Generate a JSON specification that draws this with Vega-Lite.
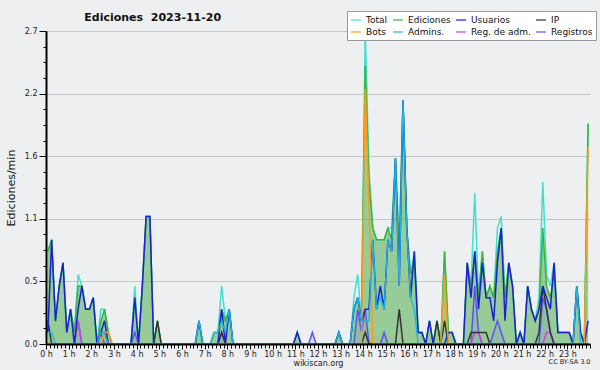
{
"$schema": "https://vega.github.io/schema/vega-lite/v6.json",
"width": 544, "height": 313,
"autosize": {"type": "none"},
"padding": {"left": 46, "top": 31, "right": 10, "bottom": 26},
"background": "#eeeff1",
"title": {"text": "Ediciones\u00a0 2023-11-20", "anchor": "start", "dx": 79, "dy": 22, "offset": 10, "fontSize": 11, "fontWeight": "bold", "font": "DejaVu Sans", "color": "#111111"},
"config": {
  "view": {"stroke": null},
  "font": "DejaVu Sans",
  "legend": {"orient": "none", "legendX": 301, "legendY": -20, "columns": 4, "direction": "horizontal", "gridAlign": "each", "symbolType": "stroke", "symbolSize": 100, "symbolStrokeWidth": 1.2, "labelFontSize": 9, "labelFont": "DejaVu Sans", "labelColor": "#111111", "labelOffset": 4, "fillColor": "#ffffff", "strokeColor": "#999999", "padding": 3, "rowPadding": 1, "columnPadding": 2}
},
"data": {"values": [
{"m":5,"T":0.8,"E":0.8,"U":0.1,"P":0.2,"B":0,"A":0.1,"R":0,"G":0},
{"m":15,"T":0.9,"E":0.9,"U":0.9,"P":0,"B":0,"A":0.1,"R":0,"G":0},
{"m":25,"T":0.2,"E":0.2,"U":0.2,"P":0,"B":0,"A":0,"R":0,"G":0},
{"m":35,"T":0.5,"E":0.5,"U":0.5,"P":0,"B":0,"A":0,"R":0,"G":0},
{"m":45,"T":0.7,"E":0.7,"U":0.7,"P":0,"B":0,"A":0,"R":0,"G":0},
{"m":55,"T":0.1,"E":0.1,"U":0.1,"P":0,"B":0,"A":0,"R":0,"G":0},
{"m":65,"T":0.3,"E":0.3,"U":0.3,"P":0,"B":0,"A":0,"R":0,"G":0},
{"m":75,"T":0.1,"E":0.1,"U":0,"P":0,"B":0,"A":0,"R":0,"G":0},
{"m":85,"T":0.6,"E":0.5,"U":0.3,"P":0,"B":0,"A":0,"R":0.2,"G":0.2},
{"m":95,"T":0.5,"E":0.5,"U":0.5,"P":0,"B":0,"A":0,"R":0,"G":0},
{"m":105,"T":0.3,"E":0.3,"U":0.3,"P":0,"B":0,"A":0,"R":0,"G":0},
{"m":115,"T":0.3,"E":0.3,"U":0.3,"P":0,"B":0,"A":0,"R":0,"G":0},
{"m":125,"T":0.4,"E":0.4,"U":0.4,"P":0,"B":0,"A":0,"R":0,"G":0},
{"m":135,"T":0,"E":0,"U":0,"P":0,"B":0,"A":0,"R":0,"G":0},
{"m":145,"T":0.3,"E":0.2,"U":0.1,"P":0.1,"B":0,"A":0.1,"R":0,"G":0.1},
{"m":155,"T":0.3,"E":0.3,"U":0.2,"P":0.1,"B":0.1,"A":0.1,"R":0,"G":0},
{"m":165,"T":0.1,"E":0.1,"U":0,"P":0,"B":0.1,"A":0,"R":0,"G":0},
{"m":175,"T":0,"E":0,"U":0,"P":0,"B":0,"A":0,"R":0,"G":0},
{"m":185,"T":0,"E":0,"U":0,"P":0,"B":0,"A":0,"R":0,"G":0},
{"m":195,"T":0,"E":0,"U":0,"P":0,"B":0,"A":0,"R":0,"G":0},
{"m":205,"T":0,"E":0,"U":0,"P":0,"B":0,"A":0,"R":0,"G":0},
{"m":215,"T":0,"E":0,"U":0,"P":0,"B":0,"A":0,"R":0,"G":0},
{"m":225,"T":0,"E":0,"U":0,"P":0,"B":0,"A":0,"R":0,"G":0},
{"m":235,"T":0.5,"E":0.4,"U":0.4,"P":0,"B":0,"A":0,"R":0,"G":0.1},
{"m":245,"T":0,"E":0,"U":0,"P":0,"B":0,"A":0,"R":0,"G":0},
{"m":255,"T":0.5,"E":0.5,"U":0.5,"P":0,"B":0,"A":0,"R":0,"G":0},
{"m":265,"T":1.1,"E":1.1,"U":1.1,"P":0,"B":0,"A":0,"R":0,"G":0},
{"m":275,"T":1.1,"E":1.1,"U":1.1,"P":0,"B":0,"A":0,"R":0,"G":0},
{"m":285,"T":0,"E":0,"U":0,"P":0,"B":0,"A":0,"R":0,"G":0},
{"m":295,"T":0.2,"E":0.2,"U":0,"P":0.2,"B":0,"A":0,"R":0,"G":0},
{"m":305,"T":0,"E":0,"U":0,"P":0,"B":0,"A":0,"R":0,"G":0},
{"m":315,"T":0,"E":0,"U":0,"P":0,"B":0,"A":0,"R":0,"G":0},
{"m":325,"T":0,"E":0,"U":0,"P":0,"B":0,"A":0,"R":0,"G":0},
{"m":335,"T":0,"E":0,"U":0,"P":0,"B":0,"A":0,"R":0,"G":0},
{"m":345,"T":0,"E":0,"U":0,"P":0,"B":0,"A":0,"R":0,"G":0},
{"m":355,"T":0,"E":0,"U":0,"P":0,"B":0,"A":0,"R":0,"G":0},
{"m":365,"T":0,"E":0,"U":0,"P":0,"B":0,"A":0,"R":0,"G":0},
{"m":375,"T":0,"E":0,"U":0,"P":0,"B":0,"A":0,"R":0,"G":0},
{"m":385,"T":0,"E":0,"U":0,"P":0,"B":0,"A":0,"R":0,"G":0},
{"m":395,"T":0,"E":0,"U":0,"P":0,"B":0,"A":0,"R":0,"G":0},
{"m":405,"T":0.2,"E":0.2,"U":0.2,"P":0,"B":0,"A":0.2,"R":0,"G":0},
{"m":415,"T":0,"E":0,"U":0,"P":0,"B":0,"A":0,"R":0,"G":0},
{"m":425,"T":0,"E":0,"U":0,"P":0,"B":0,"A":0,"R":0,"G":0},
{"m":435,"T":0,"E":0,"U":0,"P":0,"B":0,"A":0,"R":0,"G":0},
{"m":445,"T":0.1,"E":0.1,"U":0,"P":0,"B":0,"A":0.1,"R":0,"G":0},
{"m":455,"T":0.1,"E":0.1,"U":0,"P":0,"B":0,"A":0.1,"R":0,"G":0},
{"m":465,"T":0.5,"E":0.3,"U":0.3,"P":0.1,"B":0,"A":0.2,"R":0,"G":0.1},
{"m":475,"T":0.2,"E":0.2,"U":0,"P":0,"B":0,"A":0.1,"R":0,"G":0},
{"m":485,"T":0.3,"E":0.3,"U":0.3,"P":0,"B":0,"A":0.3,"R":0,"G":0},
{"m":495,"T":0,"E":0,"U":0,"P":0,"B":0,"A":0,"R":0,"G":0},
{"m":505,"T":0,"E":0,"U":0,"P":0,"B":0,"A":0,"R":0,"G":0},
{"m":515,"T":0,"E":0,"U":0,"P":0,"B":0,"A":0,"R":0,"G":0},
{"m":525,"T":0,"E":0,"U":0,"P":0,"B":0,"A":0,"R":0,"G":0},
{"m":535,"T":0,"E":0,"U":0,"P":0,"B":0,"A":0,"R":0,"G":0},
{"m":545,"T":0,"E":0,"U":0,"P":0,"B":0,"A":0,"R":0,"G":0},
{"m":555,"T":0,"E":0,"U":0,"P":0,"B":0,"A":0,"R":0,"G":0},
{"m":565,"T":0,"E":0,"U":0,"P":0,"B":0,"A":0,"R":0,"G":0},
{"m":575,"T":0,"E":0,"U":0,"P":0,"B":0,"A":0,"R":0,"G":0},
{"m":585,"T":0,"E":0,"U":0,"P":0,"B":0,"A":0,"R":0,"G":0},
{"m":595,"T":0,"E":0,"U":0,"P":0,"B":0,"A":0,"R":0,"G":0},
{"m":605,"T":0,"E":0,"U":0,"P":0,"B":0,"A":0,"R":0,"G":0},
{"m":615,"T":0,"E":0,"U":0,"P":0,"B":0,"A":0,"R":0,"G":0},
{"m":625,"T":0,"E":0,"U":0,"P":0,"B":0,"A":0,"R":0,"G":0},
{"m":635,"T":0,"E":0,"U":0,"P":0,"B":0,"A":0,"R":0,"G":0},
{"m":645,"T":0,"E":0,"U":0,"P":0,"B":0,"A":0,"R":0,"G":0},
{"m":655,"T":0,"E":0,"U":0,"P":0,"B":0,"A":0,"R":0,"G":0},
{"m":665,"T":0.1,"E":0.1,"U":0.1,"P":0,"B":0,"A":0,"R":0,"G":0},
{"m":675,"T":0,"E":0,"U":0,"P":0,"B":0,"A":0,"R":0,"G":0},
{"m":685,"T":0,"E":0,"U":0,"P":0,"B":0,"A":0,"R":0,"G":0},
{"m":695,"T":0,"E":0,"U":0,"P":0,"B":0,"A":0,"R":0,"G":0},
{"m":705,"T":0,"E":0,"U":0,"P":0,"B":0,"A":0,"R":0,"G":0.1},
{"m":715,"T":0,"E":0,"U":0,"P":0,"B":0,"A":0,"R":0,"G":0},
{"m":725,"T":0,"E":0,"U":0,"P":0,"B":0,"A":0,"R":0,"G":0},
{"m":735,"T":0,"E":0,"U":0,"P":0,"B":0,"A":0,"R":0,"G":0},
{"m":745,"T":0,"E":0,"U":0,"P":0,"B":0,"A":0,"R":0,"G":0},
{"m":755,"T":0,"E":0,"U":0,"P":0,"B":0,"A":0,"R":0,"G":0},
{"m":765,"T":0,"E":0,"U":0,"P":0,"B":0,"A":0,"R":0,"G":0},
{"m":775,"T":0.1,"E":0.1,"U":0.1,"P":0,"B":0,"A":0.1,"R":0,"G":0},
{"m":785,"T":0,"E":0,"U":0,"P":0,"B":0,"A":0,"R":0,"G":0},
{"m":795,"T":0,"E":0,"U":0,"P":0,"B":0,"A":0,"R":0,"G":0},
{"m":805,"T":0,"E":0,"U":0,"P":0,"B":0,"A":0,"R":0,"G":0},
{"m":815,"T":0.4,"E":0.3,"U":0.3,"P":0,"B":0,"A":0.3,"R":0,"G":0},
{"m":825,"T":0.6,"E":0.4,"U":0.4,"P":0,"B":0,"A":0.4,"R":0,"G":0.3},
{"m":835,"T":0.2,"E":0.2,"U":0.2,"P":0,"B":0,"A":0.2,"R":0,"G":0.1},
{"m":845,"T":2.7,"E":2.4,"U":0.3,"P":0.1,"B":2.2,"A":0.2,"R":0,"G":0.3},
{"m":855,"T":1.5,"E":1.4,"U":0.3,"P":0,"B":1.2,"A":0.2,"R":0,"G":0},
{"m":865,"T":1.0,"E":1.0,"U":0.9,"P":0,"B":0,"A":0.9,"R":0,"G":0},
{"m":875,"T":0.9,"E":0.9,"U":0.3,"P":0,"B":0,"A":0.3,"R":0,"G":0},
{"m":885,"T":0.9,"E":0.9,"U":0.5,"P":0,"B":0,"A":0.4,"R":0,"G":0},
{"m":895,"T":0.9,"E":0.9,"U":0.3,"P":0,"B":0,"A":0.3,"R":0,"G":0.1},
{"m":905,"T":1.0,"E":1.0,"U":0.9,"P":0,"B":0,"A":0.9,"R":0,"G":0},
{"m":915,"T":1.0,"E":0.9,"U":0.8,"P":0,"B":0,"A":0.8,"R":0,"G":0},
{"m":925,"T":1.6,"E":1.6,"U":1.6,"P":0,"B":0,"A":1.6,"R":0,"G":0},
{"m":935,"T":0.8,"E":0.8,"U":0.5,"P":0.3,"B":0,"A":0.5,"R":0,"G":0},
{"m":945,"T":2.1,"E":2.1,"U":2.1,"P":0,"B":0,"A":2.1,"R":0,"G":0},
{"m":955,"T":1.0,"E":1.0,"U":1.0,"P":0,"B":0,"A":1.0,"R":0,"G":0},
{"m":965,"T":0.6,"E":0.6,"U":0.4,"P":0,"B":0,"A":0.4,"R":0,"G":0},
{"m":975,"T":0.8,"E":0.7,"U":0.8,"P":0,"B":0,"A":0.3,"R":0,"G":0},
{"m":985,"T":0.1,"E":0.1,"U":0.1,"P":0,"B":0,"A":0,"R":0,"G":0},
{"m":995,"T":0.1,"E":0.1,"U":0.1,"P":0,"B":0,"A":0,"R":0,"G":0},
{"m":1005,"T":0,"E":0,"U":0,"P":0,"B":0,"A":0,"R":0,"G":0},
{"m":1015,"T":0.2,"E":0.2,"U":0.2,"P":0,"B":0,"A":0,"R":0,"G":0},
{"m":1025,"T":0,"E":0,"U":0,"P":0,"B":0,"A":0,"R":0,"G":0},
{"m":1035,"T":0.2,"E":0.2,"U":0,"P":0.2,"B":0,"A":0,"R":0,"G":0},
{"m":1045,"T":0,"E":0,"U":0,"P":0,"B":0,"A":0,"R":0,"G":0},
{"m":1055,"T":0.8,"E":0.8,"U":0,"P":0.2,"B":0.6,"A":0,"R":0,"G":0},
{"m":1065,"T":0.1,"E":0.1,"U":0.1,"P":0,"B":0,"A":0,"R":0,"G":0},
{"m":1075,"T":0.1,"E":0.1,"U":0.1,"P":0,"B":0,"A":0,"R":0,"G":0},
{"m":1085,"T":0,"E":0,"U":0,"P":0,"B":0,"A":0,"R":0,"G":0},
{"m":1095,"T":0,"E":0,"U":0,"P":0,"B":0,"A":0,"R":0,"G":0},
{"m":1105,"T":0,"E":0,"U":0,"P":0,"B":0,"A":0,"R":0,"G":0},
{"m":1115,"T":0.7,"E":0.7,"U":0.7,"P":0,"B":0,"A":0,"R":0,"G":0},
{"m":1125,"T":0.5,"E":0.5,"U":0.4,"P":0.1,"B":0,"A":0,"R":0,"G":0},
{"m":1135,"T":1.3,"E":0.8,"U":0.8,"P":0.1,"B":0,"A":0,"R":0.1,"G":0.5},
{"m":1145,"T":0.4,"E":0.4,"U":0.3,"P":0.1,"B":0,"A":0,"R":0.1,"G":0.1},
{"m":1155,"T":0.8,"E":0.8,"U":0.7,"P":0.1,"B":0,"A":0,"R":0,"G":0},
{"m":1165,"T":0.4,"E":0.4,"U":0.4,"P":0.1,"B":0,"A":0,"R":0,"G":0},
{"m":1175,"T":0.5,"E":0.5,"U":0.4,"P":0,"B":0,"A":0,"R":0,"G":0},
{"m":1185,"T":0.4,"E":0.4,"U":0.2,"P":0,"B":0,"A":0,"R":0,"G":0.1},
{"m":1195,"T":1.0,"E":0.8,"U":0.7,"P":0,"B":0,"A":0,"R":0,"G":0.2},
{"m":1205,"T":1.1,"E":1.0,"U":1.0,"P":0,"B":0,"A":0,"R":0,"G":0.1},
{"m":1215,"T":0.4,"E":0.4,"U":0.2,"P":0,"B":0,"A":0,"R":0,"G":0},
{"m":1225,"T":0.7,"E":0.7,"U":0.7,"P":0,"B":0,"A":0,"R":0,"G":0},
{"m":1235,"T":0.5,"E":0.5,"U":0.5,"P":0,"B":0,"A":0,"R":0,"G":0},
{"m":1245,"T":0,"E":0,"U":0,"P":0,"B":0,"A":0,"R":0,"G":0},
{"m":1255,"T":0.1,"E":0.1,"U":0.1,"P":0,"B":0,"A":0,"R":0,"G":0},
{"m":1265,"T":0,"E":0,"U":0,"P":0,"B":0,"A":0,"R":0,"G":0},
{"m":1275,"T":0.5,"E":0.5,"U":0.5,"P":0,"B":0,"A":0,"R":0,"G":0},
{"m":1285,"T":0.3,"E":0.3,"U":0.3,"P":0,"B":0,"A":0,"R":0,"G":0},
{"m":1295,"T":0.2,"E":0.2,"U":0.2,"P":0,"B":0,"A":0,"R":0,"G":0},
{"m":1305,"T":0.4,"E":0.3,"U":0.3,"P":0.1,"B":0,"A":0,"R":0,"G":0},
{"m":1315,"T":1.4,"E":1.0,"U":0.5,"P":0.5,"B":0,"A":0,"R":0,"G":0.4},
{"m":1325,"T":0.6,"E":0.5,"U":0.4,"P":0.3,"B":0,"A":0,"R":0.1,"G":0.3},
{"m":1335,"T":0.5,"E":0.4,"U":0.3,"P":0.1,"B":0,"A":0,"R":0.1,"G":0.1},
{"m":1345,"T":0.7,"E":0.6,"U":0.7,"P":0,"B":0,"A":0,"R":0,"G":0},
{"m":1355,"T":0.1,"E":0.1,"U":0.1,"P":0,"B":0,"A":0,"R":0,"G":0},
{"m":1365,"T":0.1,"E":0.1,"U":0.1,"P":0,"B":0,"A":0,"R":0,"G":0},
{"m":1375,"T":0.1,"E":0.1,"U":0.1,"P":0,"B":0,"A":0,"R":0,"G":0},
{"m":1385,"T":0.1,"E":0.1,"U":0.1,"P":0,"B":0,"A":0,"R":0,"G":0},
{"m":1395,"T":0,"E":0,"U":0,"P":0,"B":0,"A":0,"R":0,"G":0},
{"m":1405,"T":0.5,"E":0.5,"U":0.5,"P":0,"B":0,"A":0.5,"R":0,"G":0},
{"m":1415,"T":0.1,"E":0.1,"U":0.1,"P":0,"B":0,"A":0,"R":0,"G":0},
{"m":1425,"T":0,"E":0,"U":0,"P":0,"B":0,"A":0,"R":0,"G":0},
{"m":1435,"T":1.9,"E":1.9,"U":0.2,"P":0,"B":1.7,"A":0,"R":0,"G":0}
]},
"resolve": {"axis": {"x": "independent", "y": "independent"}},
"layer": [
{"mark": {"type": "area", "color": "#2ca02c", "opacity": 0.45, "interpolate": "linear"},
 "encoding": {
  "x": {"field": "m", "type": "quantitative", "scale": {"domain": [0, 1440], "nice": false, "zero": false},
        "axis": {"orient": "bottom", "values": [0,60,120,180,240,300,360,420,480,540,600,660,720,780,840,900,960,1020,1080,1140,1200,1260,1320,1380], "labelExpr": "datum.value/60 + ' h'", "domain": false, "ticks": true, "tickSize": 5, "tickColor": "#000000", "tickWidth": 1, "labelFontSize": 8, "labelColor": "#222222", "labelPadding": 1, "labelFlush": false, "labelOverlap": false, "labelBound": false, "grid": false, "title": "wikiscan.org", "titleFontSize": 8, "titleFontWeight": "normal", "titleColor": "#222222", "titlePadding": 1, "zindex": 1}},
  "y": {"field": "E", "type": "quantitative", "scale": {"domain": [0, 2.7], "nice": false},
        "axis": {"orient": "left", "values": [0, 0.54, 1.08, 1.62, 2.16, 2.7], "format": ".1f", "domain": false, "tickSize": 7, "tickColor": "#000000", "grid": true, "gridColor": "#c8c8c8", "gridWidth": 1, "labelFontSize": 8, "labelColor": "#222222", "labelPadding": 2, "title": "Ediciones/min", "titleFontSize": 11, "titleFontWeight": "normal", "titleColor": "#111111", "titlePadding": 8, "zindex": 0}}
 }},
{"mark": {"type": "area", "color": "#6a6aee", "opacity": 0.15, "interpolate": "linear"},
 "encoding": {"x": {"field": "m", "type": "quantitative", "axis": null}, "y": {"field": "G", "type": "quantitative", "axis": null}}},
{"mark": {"type": "line", "strokeWidth": 1.5, "interpolate": "linear"},
 "encoding": {
  "x": {"field": "m", "type": "quantitative",
        "axis": {"orient": "bottom", "tickCount": 144, "labels": false, "domain": true, "domainColor": "#000000", "domainWidth": 2, "ticks": true, "tickSize": 4, "tickColor": "#000000", "grid": false, "title": "CC BY-SA 3.0", "titleFontSize": 6.5, "titleFontWeight": "normal", "titleAnchor": "end", "titleColor": "#222222", "titlePadding": 10, "zindex": 1}},
  "y": {"field": "T", "type": "quantitative",
        "axis": {"orient": "left", "values": [0,0.135,0.27,0.405,0.54,0.675,0.81,0.945,1.08,1.215,1.35,1.485,1.62,1.755,1.89,2.025,2.16,2.295,2.43,2.565,2.7], "labels": false, "domain": true, "domainColor": "#000000", "domainWidth": 2, "tickSize": 3, "tickColor": "#000000", "grid": false, "title": null, "zindex": 1}},
  "color": {"datum": "Total", "type": "nominal",
            "scale": {"domain": ["Total", "Ediciones", "Usuarios", "IP", "Bots", "Admins.", "Reg. de adm.", "Registros"],
                      "range": ["#40e0d0", "#3cb43c", "#1a22d0", "#333333", "#ff9a1a", "#20b4e0", "#cc44dd", "#5b55ee"]},
            "legend": {"title": null}}
 }},
{"mark": {"type": "line", "strokeWidth": 1.5, "interpolate": "linear"},
 "encoding": {"x": {"field": "m", "type": "quantitative", "axis": null}, "y": {"field": "E", "type": "quantitative", "axis": null}, "color": {"datum": "Ediciones", "type": "nominal"}}},
{"mark": {"type": "line", "strokeWidth": 1.5, "interpolate": "linear"},
 "encoding": {"x": {"field": "m", "type": "quantitative", "axis": null}, "y": {"field": "G", "type": "quantitative", "axis": null}, "color": {"datum": "Registros", "type": "nominal"}}},
{"mark": {"type": "line", "strokeWidth": 1.5, "interpolate": "linear"},
 "encoding": {"x": {"field": "m", "type": "quantitative", "axis": null}, "y": {"field": "R", "type": "quantitative", "axis": null}, "color": {"datum": "Reg. de adm.", "type": "nominal"}}},
{"mark": {"type": "line", "strokeWidth": 1.5, "interpolate": "linear"},
 "encoding": {"x": {"field": "m", "type": "quantitative", "axis": null}, "y": {"field": "P", "type": "quantitative", "axis": null}, "color": {"datum": "IP", "type": "nominal"}}},
{"mark": {"type": "line", "strokeWidth": 1.5, "interpolate": "linear"},
 "encoding": {"x": {"field": "m", "type": "quantitative", "axis": null}, "y": {"field": "U", "type": "quantitative", "axis": null}, "color": {"datum": "Usuarios", "type": "nominal"}}},
{"mark": {"type": "line", "strokeWidth": 1.5, "interpolate": "linear"},
 "encoding": {"x": {"field": "m", "type": "quantitative", "axis": null}, "y": {"field": "B", "type": "quantitative", "axis": null}, "color": {"datum": "Bots", "type": "nominal"}}},
{"mark": {"type": "line", "strokeWidth": 1.3, "interpolate": "linear"},
 "encoding": {"x": {"field": "m", "type": "quantitative", "axis": null}, "y": {"field": "A", "type": "quantitative", "axis": null}, "color": {"datum": "Admins.", "type": "nominal"}}}
]
}
